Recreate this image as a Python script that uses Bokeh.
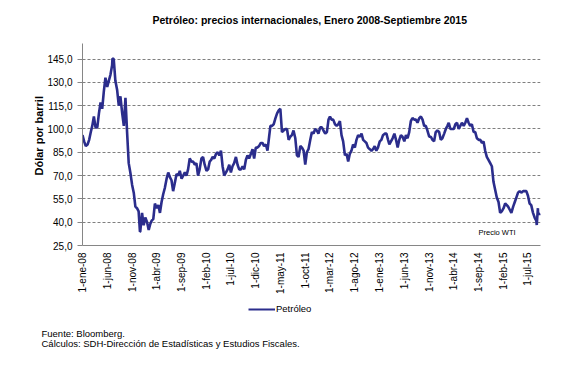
import pandas as pd
from math import pi
from bokeh.plotting import figure
from bokeh.layouts import column
from bokeh.models import (FixedTicker, Label, Legend, LegendItem, Range1d,
                          ColumnDataSource, Title)
from bokeh.embed import file_html
from bokeh.resources import INLINE

# ---------------- data (WTI, USD per barrel, sampled on days 1/11/21) -------
sample_days = [1, 11, 21]
precio_2008 = [96, 92, 89, 90, 93, 98, 102, 108, 101, 101, 110, 117,
               113, 124, 133, 127, 131, 135, 141, 145, 131, 125, 115, 121,
               110, 102, 120, 98, 78, 72, 64, 59, 50, 49, 47, 34]
precio_2009 = [46, 38, 43, 40, 35, 39, 41, 42, 52, 49, 51, 46,
               53, 58, 62, 68, 72, 69, 67, 60, 65, 71, 70, 73,
               68, 70, 72, 70, 74, 81, 79, 79, 77, 78, 70, 74]
precio_2010 = [81, 82, 77, 73, 74, 79, 80, 82, 81, 84, 85, 83,
               86, 76, 70, 72, 74, 77, 72, 76, 78, 82, 77, 74,
               74, 76, 74, 80, 83, 81, 84, 87, 81, 88, 88, 89]
precio_2011 = [91, 91, 89, 90, 86, 95, 102, 102, 103, 107, 110, 112,
               113, 98, 99, 100, 100, 93, 95, 96, 99, 94, 83, 82,
               89, 88, 86, 77, 85, 87, 93, 98, 97, 100, 99, 97]
precio_2012 = [101, 101, 99, 97, 98, 106, 108, 106, 106, 103, 102, 103,
               105, 96, 92, 83, 84, 79, 84, 86, 90, 88, 93, 96,
               95, 97, 93, 92, 91, 88, 87, 86, 87, 89, 86, 88]
precio_2013 = [92, 93, 96, 97, 97, 93, 90, 92, 94, 97, 93, 88,
               93, 96, 95, 92, 96, 94, 98, 105, 107, 106, 106, 104,
               107, 108, 106, 102, 102, 99, 95, 95, 93, 92, 98, 99]
precio_2014 = [98, 93, 94, 97, 100, 102, 104, 100, 100, 100, 103, 104,
               100, 102, 104, 102, 104, 107, 104, 102, 103, 98, 98, 94,
               93, 93, 91, 92, 86, 82, 80, 78, 76, 66, 61, 56]
precio_2015 = [53, 46, 47, 49, 52, 51, 50, 48, 46, 50, 53, 56,
               59, 60, 59, 60, 60, 60, 57, 52, 51, 46, 43, 41,
               46, 45]
extra_fechas = ["2008-07-03", "2008-12-19", "2015-08-24", "2015-08-31", "2015-09-15"]
extra_precios = [145.3, 33.9, 38.2, 49.0, 45.5]

tick_fechas = ["2008-01-01", "2008-06-01", "2008-11-01", "2009-04-01", "2009-09-01",
               "2010-02-01", "2010-07-01", "2010-12-01", "2011-05-01", "2011-10-01",
               "2012-03-01", "2012-08-01", "2013-01-01", "2013-06-01", "2013-11-01",
               "2014-04-01", "2014-09-01", "2015-02-01", "2015-07-01"]
tick_labels = ["1-ene-08", "1-jun-08", "1-nov-08", "1-abr-09", "1-sep-09",
               "1-feb-10", "1-jul-10", "1-dic-10", "1-may-11", "1-oct-11",
               "1-mar-12", "1-ago-12", "1-ene-13", "1-jun-13", "1-nov-13",
               "1-abr-14", "1-sep-14", "1-feb-15", "1-jul-15"]
y_ticks = [25, 40, 55, 70, 85, 100, 115, 130, 145]
y_labels = ["25,0", "40,0", "55,0", "70,0", "85,0", "100,0", "115,0", "130,0", "145,0"]

# ---------------- build series ----------------
series = {2008: precio_2008, 2009: precio_2009, 2010: precio_2010, 2011: precio_2011,
          2012: precio_2012, 2013: precio_2013, 2014: precio_2014, 2015: precio_2015}
fechas, precios = [], []
for yr, vals in series.items():
    for i, v in enumerate(vals):
        m = i // len(sample_days) + 1
        d = sample_days[i % len(sample_days)]
        fechas.append(pd.Timestamp(yr, m, d))
        precios.append(v)
for f_, v in zip(extra_fechas, extra_precios):
    fechas.append(pd.Timestamp(f_))
    precios.append(v)
df = pd.DataFrame({"fecha": fechas, "precio": precios}).sort_values("fecha")
src = ColumnDataSource(df)

def ms(ts):
    return int(pd.Timestamp(ts).timestamp() * 1000)

FONT = "Liberation Sans"
LINE = "#2B2D8C"
GRAY = "#868686"

MAIN_H = 300
p = figure(width=584, height=MAIN_H, x_axis_type="datetime", title=None,
           output_backend="svg", toolbar_location=None,
           x_range=Range1d(ms("2008-01-01"), ms("2015-09-16")),
           y_range=Range1d(25, 155),
           min_border_left=82, min_border_right=44,
           min_border_top=43, min_border_bottom=MAIN_H - 245)
p.frame_align = False
p.outline_line_color = None
p.background_fill_color = "white"
p.border_fill_color = "white"

r = p.line("fecha", "precio", source=src, line_color=LINE, line_width=2.6)

# grid
p.xgrid.visible = False
p.ygrid.ticker = FixedTicker(ticks=y_ticks)
p.ygrid.grid_line_color = "#7F7F7F"
p.ygrid.grid_line_dash = "3 2"
p.ygrid.grid_line_width = 1

# y axis
ya = p.yaxis[0]
ya.ticker = FixedTicker(ticks=y_ticks)
ya.major_label_overrides = {t: l for t, l in zip(y_ticks, y_labels)}
ya.axis_line_color = GRAY
ya.major_tick_line_color = GRAY
ya.major_tick_out = 5
ya.major_tick_in = 0
ya.minor_tick_line_color = None
ya.major_label_standoff = 5
ya.major_label_text_font = FONT
ya.major_label_text_font_size = "10px"
ya.major_label_text_color = "black"

# x axis
xa = p.xaxis[0]
xt = [ms(t) for t in tick_fechas]
xa.ticker = FixedTicker(ticks=xt)
xa.major_label_overrides = {t: l for t, l in zip(xt, tick_labels)}
xa.axis_line_color = GRAY
xa.major_tick_line_color = None
xa.major_tick_out = 0
xa.major_tick_in = 0
xa.minor_tick_line_color = None
xa.major_label_orientation = pi / 2
xa.major_label_standoff = 7
xa.major_label_text_font = FONT
xa.major_label_text_font_size = "10px"
xa.major_label_text_color = "black"

# spacer between frame and title, then the title
p.add_layout(Title(text=" ", text_font_size="10px", standoff=3), "above")
p.add_layout(Title(text="Petróleo: precios internacionales, Enero 2008-Septiembre 2015",
                   text_font=FONT, text_font_style="bold",
                   text_font_size="10.5px", align="left", offset=70,
                   vertical_align="top", standoff=0, text_color="black"), "above")

# y-axis label (left panel)
p.add_layout(Title(text="Dólar por barril", align="left", offset=70,
                   vertical_align="bottom", standoff=0,
                   text_font=FONT, text_font_style="bold", text_font_size="11px",
                   text_color="black"), "left")

# annotation inside the plot
p.add_layout(Label(x=396, y=13, x_units="screen", y_units="screen",
                   text="Precio WTI", text_font=FONT, text_font_size="7.5px",
                   text_align="left", text_baseline="middle", text_color="black"))

# ---------------- footer figure: legend + sources ----------------
FOOT_H = 365 - MAIN_H
f = figure(width=584, height=FOOT_H, output_backend="svg", toolbar_location=None,
           x_range=Range1d(0, 584), y_range=Range1d(0, FOOT_H),
           min_border=0, min_border_left=0, min_border_right=0,
           min_border_top=0, min_border_bottom=0,
           title=None, x_axis_location=None, y_axis_location=None)
f.frame_align = False
f.outline_line_color = None
f.xgrid.visible = False
f.ygrid.visible = False
f.background_fill_color = "white"
f.border_fill_color = "white"
# legend sample renderer (its points lie outside the visible range)
lr = f.line(x=[-100, -90], y=[-100, -90], line_color=LINE, line_width=2)

legend = Legend(items=[LegendItem(label="Petróleo", renderers=[lr])],
                location=(248, FOOT_H - 14), orientation="horizontal",
                padding=0, margin=0, spacing=0, label_standoff=1,
                glyph_width=27, glyph_height=10, label_height=10,
                label_text_font=FONT, label_text_font_size="9.5px",
                label_text_color="black",
                border_line_color=None, background_fill_alpha=0)
f.add_layout(legend, "center")

f.add_layout(Label(x=41, y=FOOT_H - 33, text="Fuente: Bloomberg.",
                   text_font=FONT, text_font_size="9.5px",
                   text_align="left", text_baseline="middle", text_color="black"))
f.add_layout(Label(x=41, y=FOOT_H - 43,
                   text="Cálculos: SDH-Dirección de Estadísticas y Estudios Fiscales.",
                   text_font=FONT, text_font_size="9.5px",
                   text_align="left", text_baseline="middle", text_color="black"))

layout = column(p, f, spacing=0)
open("out.html", "w").write(file_html(layout, INLINE))
